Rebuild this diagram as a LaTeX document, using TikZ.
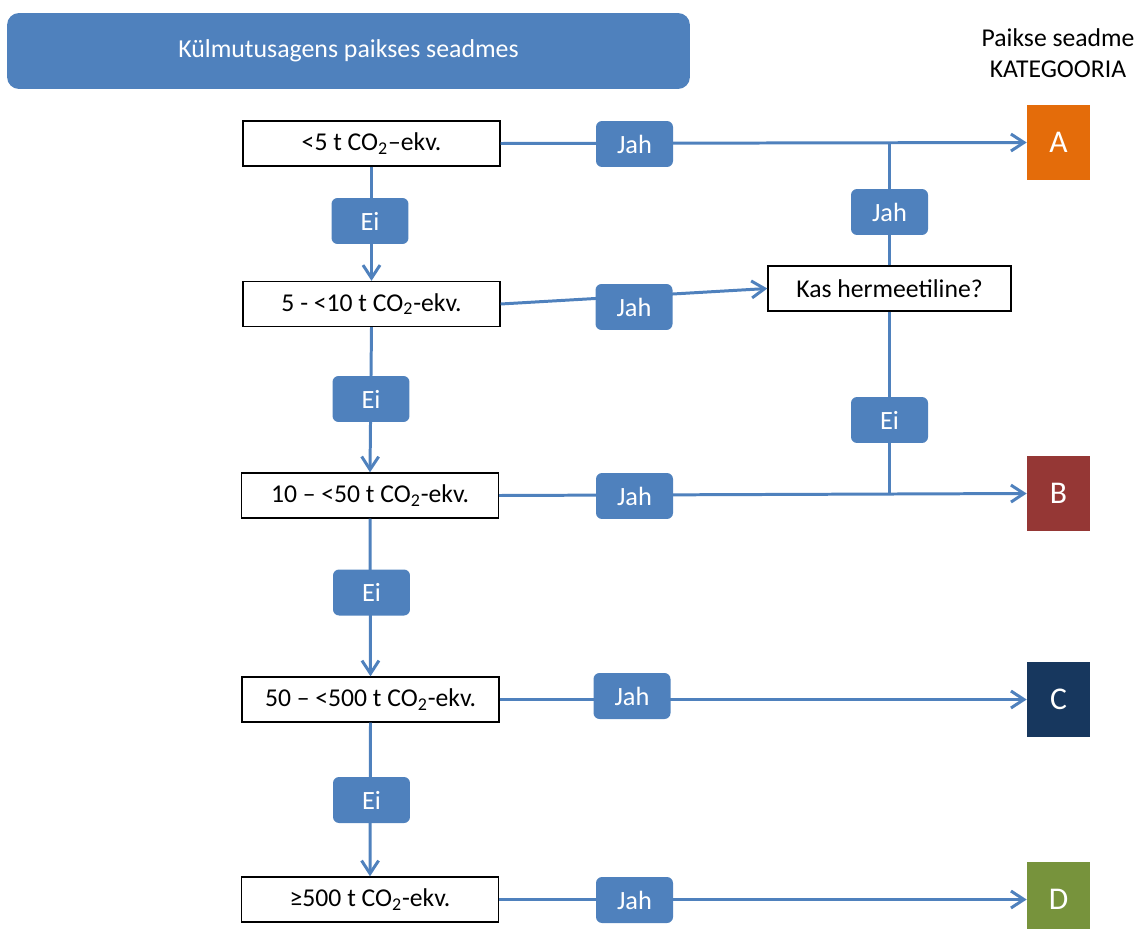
\documentclass[tikz,border=0pt]{standalone}
\usepackage{fontspec}
\setmainfont{Carlito}
\usetikzlibrary{arrows.meta,positioning}
\usepackage{xcolor}
\definecolor{flowblue}{RGB}{79,129,189}
\definecolor{catacol}{RGB}{228,108,10}
\definecolor{catbcol}{RGB}{149,55,53}
\definecolor{catccol}{RGB}{23,55,94}
\definecolor{catdcol}{RGB}{119,147,60}

\begin{document}
\begin{tikzpicture}[x=0.02cm, y=-0.02cm,
  every node/.style={font=\fontsize{14.6}{17}\selectfont},
  limit/.style={draw=black, line width=0.8pt, minimum width=5.14cm, minimum height=0.9cm, inner sep=0pt},
  answer/.style={fill=flowblue, text=white, rounded corners=0.12cm, minimum width=1.54cm, minimum height=0.92cm, inner sep=0pt, font=\fontsize{15}{17}\selectfont},
  category/.style={text=white, minimum width=1.26cm, minimum height=1.5cm, inner sep=0pt, font=\fontsize{18}{20}\selectfont},
  flow/.style={flowblue, line width=1.7pt},
  flowarrow/.style={flow, -{Straight Barb[length=2.6mm,width=3.4mm]}}]
  \useasboundingbox (0,0) rectangle (1139,929);
  % Title and header
  \node[fill=flowblue, rounded corners=0.24cm, minimum width=13.66cm, minimum height=1.52cm,
        text=white, font=\fontsize{14.7}{17}\selectfont] (title) at (348.5,51) {Külmutusagens paikses seadmes};
  \node[align=center, font=\fontsize{14.6}{17.6}\selectfont] (header) at (1058,53) {Paikse seadme\\KATEGOORIA};
  % Thresholds
  \node[limit] (lim5) at (371.5,143.5) {<5 t CO\textsubscript{2}–ekv.};
  \node[limit] (lim10) at (371.5,304) {5 - <10 t CO\textsubscript{2}-ekv.};
  \node[limit] (lim50) at (370,495.5) {10 – <50 t CO\textsubscript{2}-ekv.};
  \node[limit] (lim500) at (370.5,699.5) {50 – <500 t CO\textsubscript{2}-ekv.};
  \node[limit] (limover) at (370,899.5) {≥500 t CO\textsubscript{2}-ekv.};
  \node[limit, minimum width=4.86cm] (herm) at (889.5,288.5) {Kas hermeetiline?};
  % Categories
  \node[category, fill=catacol] (katA) at (1058.5,142.5) {A};
  \node[category, fill=catbcol] (katB) at (1058.5,493.5) {B};
  \node[category, fill=catccol] (katC) at (1058.5,699.5) {C};
  \node[category, fill=catdcol] (katD) at (1058.5,899.5) {D};
  % Connectors
  \draw[flowarrow] (lim5.east) -- (katA.west);
  \draw[flow] (herm.north) -- (herm.north |- katA.west);
  \draw[flowarrow] (lim10.east) -- (herm.west);
  \draw[flow] (herm.south) -- (herm.south |- katB.west);
  \draw[flowarrow] (lim50.east) -- (katB.west);
  \draw[flowarrow] (lim500.east) -- (katC.west);
  \draw[flowarrow] (limover.east) -- (katD.west);
  \draw[flowarrow] (lim5.south) -- (lim10.north);
  \draw[flowarrow] (lim10.south) -- (lim50.north);
  \draw[flowarrow] (lim50.south) -- (lim500.north);
  \draw[flowarrow] (lim500.south) -- (limover.north);
  % Answers
  \node[answer] (ei1) at (370,221) {Ei};
  \node[answer] (ei2) at (371,399) {Ei};
  \node[answer] (ei3) at (371.5,592.5) {Ei};
  \node[answer] (ei4) at (371.5,800) {Ei};
  \node[answer] (jah1) at (634.5,144) {Jah};
  \node[answer] (jah2) at (634,307) {Jah};
  \node[answer] (jah3) at (634.5,496) {Jah};
  \node[answer] (jah4) at (632,696) {Jah};
  \node[answer] (jah5) at (634.5,900) {Jah};
  \node[answer] (jahherm) at (889.5,212) {Jah};
  \node[answer] (eiherm) at (889.5,420) {Ei};
\end{tikzpicture}
\end{document}
